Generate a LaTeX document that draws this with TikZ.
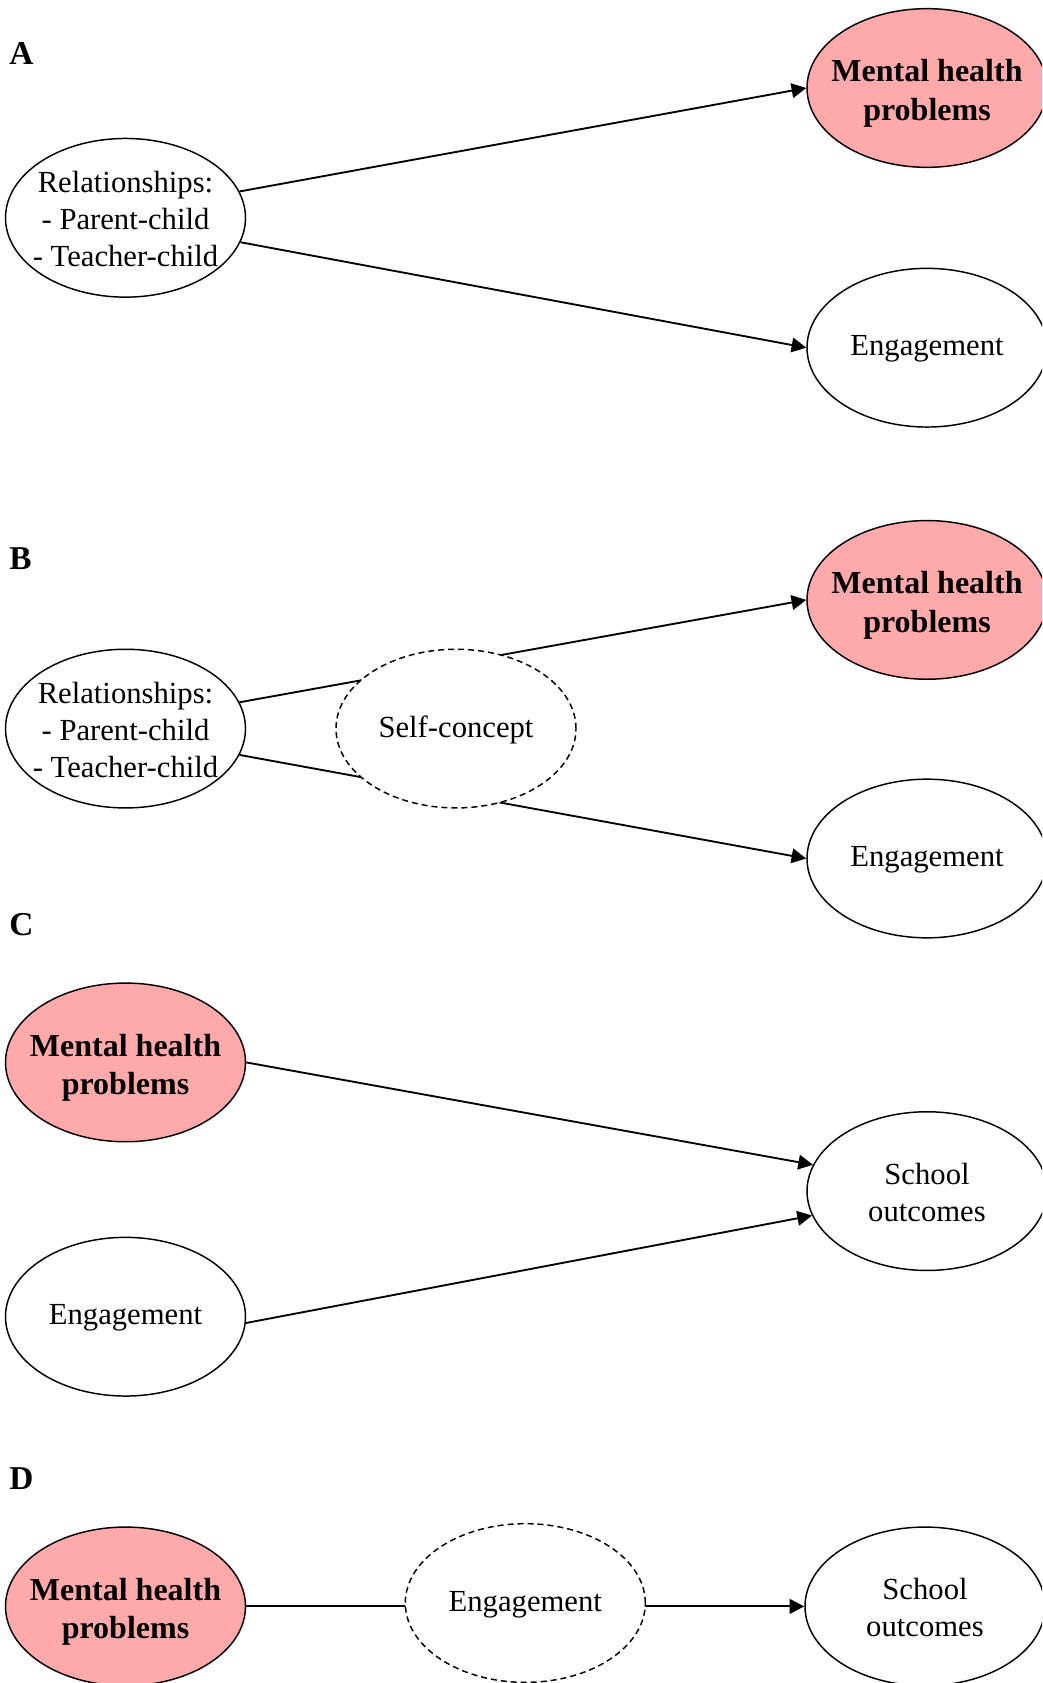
\documentclass[tikz,border=0pt]{standalone}
\usepackage{fontspec}
\setmainfont{Liberation Serif}
\usetikzlibrary{shapes.geometric,arrows.meta}
\definecolor{pinkfill}{RGB}{255,170,170}
\begin{document}
\begin{tikzpicture}[x=0.75pt,y=-0.75pt,
  bub/.style={ellipse, draw, line width=1.1pt, minimum width=180pt, minimum height=119pt, inner sep=0pt, fill=white},
  mhbub/.style={bub, fill=pinkfill},
  dbub/.style={bub, dash pattern=on 4.5pt off 3pt},
  txt/.style={font=\fontsize{23}{27.5}\selectfont, align=center, inner sep=0pt, yshift=-1pt},
  btxt/.style={font=\fontsize{24}{29}\selectfont\bfseries, align=center, inner sep=0pt, yshift=-4pt},
  panel/.style={font=\fontsize{25}{30}\selectfont\bfseries, anchor=base west, inner sep=0pt},
  arr/.style={line width=1.4pt, -{Triangle[length=11pt,width=11pt]}},
  ln/.style={line width=1.4pt}]
\clip (0,0) rectangle (1042,1683);

% ---------- Panel A ----------
\node[panel] (labA) at (9,65) {A};
\node[bub, label={[txt]center:{Relationships:\\- Parent-child\\- Teacher-child}}] (relA) at (125.5,217.8) {};
\node[mhbub, label={[btxt]center:{Mental health\\problems}}] (mhA) at (927,88) {};
\node[bub, label={[txt]center:{Engagement}}] (engA) at (927,347.7) {};
\draw[arr] (relA.13) -- (mhA.west);
\draw[arr] (relA.-12) -- (engA.west);

% ---------- Panel B ----------
\node[panel] (labB) at (9,569) {B};
\node[bub, label={[txt]center:{Relationships:\\- Parent-child\\- Teacher-child}}] (relB) at (125.5,728.6) {};
\node[mhbub, label={[btxt]center:{Mental health\\problems}}] (mhB) at (927,599.9) {};
\node[bub, label={[txt]center:{Engagement}}] (engB) at (927,858.5) {};
\draw[arr] (relB.13) -- (mhB.west);
\draw[arr] (relB.-13) -- (engB.west);
\node[dbub, label={[txt]center:{Self-concept}}] (selfB) at (456,728.6) {};

% ---------- Panel C ----------
\node[panel] (labC) at (9,935) {C};
\node[mhbub, label={[btxt]center:{Mental health\\problems}}] (mhC) at (125.5,1062.4) {};
\node[bub, label={[txt]center:{Engagement}}] (engC) at (125.5,1316.7) {};
\node[bub, label={[txt]center:{School\\outcomes}}] (schC) at (927,1191.1) {};
\draw[arr] (mhC.east) -- (schC.167);
\draw[arr] (engC.-3) -- (schC.192);

% ---------- Panel D ----------
\node[panel] (labD) at (9,1489) {D};
\node[mhbub, label={[btxt]center:{Mental health\\problems}}] (mhD) at (125.5,1606.4) {};
\node[bub, label={[txt]center:{School\\outcomes}}] (schD) at (925,1606.4) {};
\draw[arr] (mhD.east) -- (schD.west);
\node[dbub, label={[txt]center:{Engagement}}] (engD) at (525.3,1603) {};
\end{tikzpicture}
\end{document}
